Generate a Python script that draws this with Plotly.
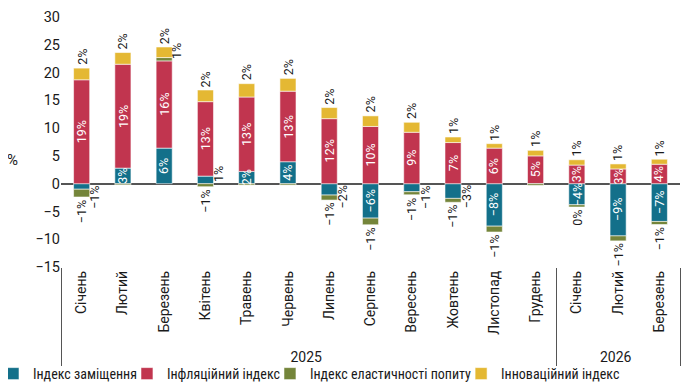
import plotly.graph_objects as go

months = ["Січень", "Лютий", "Березень", "Квітень", "Травень", "Червень", "Липень",
          "Серпень", "Вересень", "Жовтень", "Листопад", "Грудень",
          "Січень", "Лютий", "Березень"]
years = ["2025"] * 12 + ["2026"] * 3

substitution = [-1.0, 2.8, 6.4, 1.36, 2.2, 3.95, -2.05, -6.2, -1.45, -2.65, -7.65, 0.0, -3.8, -9.4, -6.8]
inflation = [18.7, 18.7, 15.7, 13.4, 13.4, 12.7, 11.7, 10.3, 9.25, 7.4, 6.4, 5.0, 3.35, 2.65, 3.5]
elasticity = [-1.4, -0.2, 0.6, -0.55, -0.25, -0.25, -0.9, -1.2, -0.55, -0.7, -1.05, -0.3, -0.4, -0.9, -0.55]
innovation = [2.1, 2.1, 1.9, 2.1, 2.4, 2.3, 2.0, 1.9, 1.8, 1.0, 0.8, 1.0, 0.95, 0.9, 0.9]

series = [
    ("Індекс заміщення", substitution, "#13708a"),
    ("Інфляційний індекс", inflation, "#c1354f"),
    ("Індекс еластичності попиту", elasticity, "#74853a"),
    ("Інноваційний індекс", innovation, "#e4b833"),
]

fig = go.Figure()
for name, vals, col in series:
    fig.add_trace(go.Bar(
        x=[years, months], y=vals, name=name,
        marker=dict(color=col, line=dict(color="rgba(255,255,255,0.7)", width=0.8)),
        hoverinfo="skip",
    ))


def pct(v):
    r = int(abs(v) + 0.5)
    return ("−" if (v < 0 and r > 0) else "") + f"{r}%"


annotations = []
pos_base = [0.0] * len(months)
neg_base = [0.0] * len(months)
for k, (name, vals, col) in enumerate(series):
    for i, v in enumerate(vals):
        base = pos_base[i] if v >= 0 else neg_base[i]
        end = base + v
        if v >= 0:
            pos_base[i] = end
        else:
            neg_base[i] = end
        if abs(v) < 0.35:
            continue
        common = dict(x=i, xref="x", yref="y", text=pct(v), showarrow=False,
                      textangle=-90, font=dict(size=12.5, color="#1a1a1a"))
        if k in (0, 1):
            if v >= 2 or v <= -3.5:
                common.update(y=base + v / 2, xanchor="center", yanchor="middle",
                              font=dict(size=12.5, color="white"))
            else:
                common.update(y=base, xanchor="center",
                              yanchor="bottom" if v > 0 else "top", xshift=13)
        elif k == 2:
            if v < 0:
                common.update(y=end, xanchor="center", yanchor="top", yshift=-1)
            else:
                common.update(y=base, xanchor="center", yanchor="bottom", xshift=13)
        else:
            common.update(y=end, xanchor="center", yanchor="bottom", yshift=1)
        annotations.append(common)

annotations.append(dict(x=-0.079, xref="paper", xanchor="center", y=4.3, yref="y",
                        text="%", showarrow=False, font=dict(size=15, color="#1a1a1a")))

fig.update_layout(
    width=689, height=382,
    margin=dict(l=53, r=17, t=9, b=123, autoexpand=False),
    barmode="relative", bargap=0.61,
    plot_bgcolor="white", paper_bgcolor="white",
    font=dict(family="Roboto", size=14, color="#1a1a1a"),
    annotations=annotations,
    legend=dict(orientation="h", xref="container", x=0.0, xanchor="left",
                yref="container", y=0.0, yanchor="bottom",
                font=dict(size=14, family="Liberation Sans Narrow, Roboto Condensed, Roboto"),
                itemwidth=30, tracegroupgap=0, indentation=-15,
                bgcolor="rgba(0,0,0,0)"),
    xaxis=dict(type="multicategory", tickangle=-90, showdividers=True,
               dividercolor="#555", dividerwidth=1, showline=False, ticks="",
               showgrid=False, tickfont=dict(size=14), automargin=False),
    yaxis=dict(range=[-15, 30], dtick=5, showgrid=False, zeroline=True,
               zerolinecolor="#555", zerolinewidth=1.5, ticks="", showline=False,
               tickfont=dict(size=14.5), automargin=False, ticklabeloverflow="allow"),
)

fig.write_html("out.html")
